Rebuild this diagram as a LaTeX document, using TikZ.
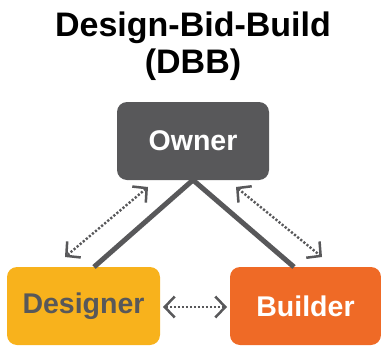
\documentclass[tikz,border=0pt]{standalone}
\usepackage{fontspec}
\setmainfont{Liberation Sans}
\usetikzlibrary{arrows.meta}
\definecolor{dgray}{HTML}{58585A}
\definecolor{dyellow}{HTML}{F8B21C}
\definecolor{dorange}{HTML}{EF6A26}
\tikzset{
  boxnode/.style={rounded corners=10pt, minimum width=152pt, minimum height=78pt, inner sep=0pt, font=\bfseries\fontsize{28.5}{28}\selectfont},
  solidlink/.style={draw=dgray, line width=5pt},
  dotlink/.style={draw=dgray, line width=2.4pt, dash pattern=on 2.2pt off 1.8pt,
    {Straight Barb[length=10pt,width=21pt,line width=2.5pt]}-{Straight Barb[length=10pt,width=21pt,line width=2.5pt]}}
}
\begin{document}
\begin{tikzpicture}[x=1pt,y=-1pt]
\useasboundingbox (0,0) rectangle (381,346);
\node[font=\bfseries\fontsize{34}{36}\selectfont, align=center, anchor=base] (title) at (193,36) {Design-Bid-Build};
\node[font=\bfseries\fontsize{34}{36}\selectfont, anchor=base] (title2) at (193,73) {(DBB)};
\node[boxnode, fill=dgray, text=white, minimum width=152pt] (owner) at (193,141) {Owner};
\node[boxnode, fill=dyellow, text=dgray, minimum width=153pt] (designer) at (83.5,306) {Designer};
\node[boxnode, fill=dorange, text=white, minimum width=151pt] (builder) at (305.5,306) {Builder};
\coordinate (ob) at (193,180);
\coordinate (dt) at (94,267);
\coordinate (bt) at (294,267);
\draw[solidlink] (ob) -- (dt);
\draw[solidlink] (ob) -- (bt);
\coordinate (a1) at (148,187);
\coordinate (a2) at (65,257);
\coordinate (b1) at (236,187);
\coordinate (b2) at (322,257);
\coordinate (c1) at (163,307);
\coordinate (c2) at (227,307);
\draw[dotlink] (a1) -- (a2);
\draw[dotlink] (b1) -- (b2);
\draw[dotlink] (c1) -- (c2);
\end{tikzpicture}
\end{document}
